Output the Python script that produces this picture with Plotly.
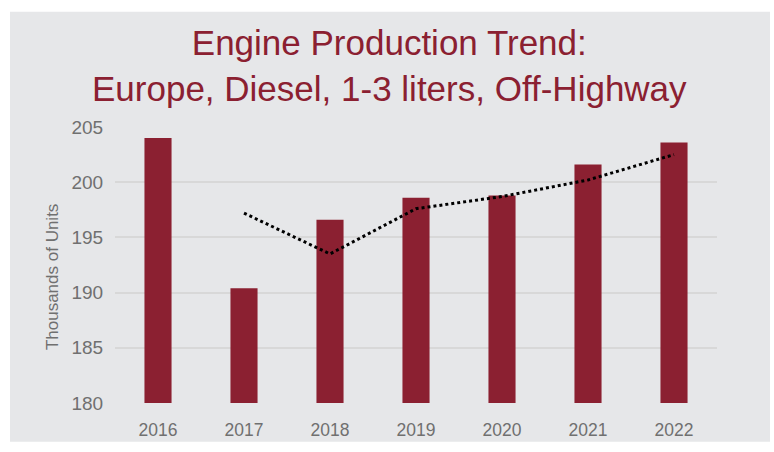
import plotly.graph_objects as go

years = ["2016", "2017", "2018", "2019", "2020", "2021", "2022"]
production = [204.0, 190.4, 196.6, 198.6, 198.8, 201.6, 203.6]
trend_years = ["2017", "2018", "2019", "2020", "2021", "2022"]
trend_values = [197.2, 193.5, 197.6, 198.7, 200.2, 202.5]
y_ticks = [180, 185, 190, 195, 200, 205]

W, H = 774, 452
L, R, T, B = 115, 57, 127, 40
pw, ph = W - L - R, H - T - B

def px_x(x):
    return (x - L) / pw

def px_y(y):
    return (H - B - y) / ph

fig = go.Figure()
fig.add_trace(go.Bar(x=years, y=production, marker=dict(color="#8b2031", line=dict(width=0)),
                     showlegend=False, hoverinfo="skip"))
fig.add_trace(go.Scatter(x=trend_years, y=trend_values, mode="lines",
                         line=dict(color="black", width=3, dash="dot"), showlegend=False,
                         hoverinfo="skip"))

fig.add_shape(type="rect", xref="paper", yref="paper", layer="below",
              x0=px_x(10), x1=px_x(770), y0=px_y(452), y1=px_y(8),
              fillcolor="#e6e7e9", line=dict(width=0))

fig.add_annotation(text="Engine Production Trend:<br>Europe, Diesel, 1-3 liters, Off-Highway",
                   xref="paper", yref="paper", x=px_x(389), y=px_y(18),
                   xanchor="center", yanchor="top", showarrow=False, align="center",
                   font=dict(family="Liberation Sans, Arial, sans-serif", size=35, color="#8b2031"))
fig.add_annotation(text="Thousands of Units", textangle=-90,
                   xref="paper", yref="paper", x=px_x(52), y=px_y(282),
                   xanchor="center", yanchor="middle", showarrow=False,
                   font=dict(family="Liberation Sans, Arial, sans-serif", size=17, color="#707070"))

fig.update_layout(
    width=W, height=H,
    margin=dict(l=L, r=R, t=T, b=B),
    paper_bgcolor="white", plot_bgcolor="rgba(0,0,0,0)",
    bargap=0.685,
    font=dict(family="Liberation Sans, Arial, sans-serif", color="#707070"),
    xaxis=dict(type="category", range=[-0.5, 6.5], showgrid=False, zeroline=False,
               showline=False, ticks="outside", ticklen=11, tickcolor="rgba(0,0,0,0)",
               tickfont=dict(size=17.5, color="#707070")),
    yaxis=dict(range=[180, 205], tickvals=y_ticks, showgrid=True, gridcolor="#d8d8d8",
               gridwidth=2, zeroline=False, showline=False, ticks="outside", ticklen=7,
               tickcolor="rgba(0,0,0,0)",
               tickfont=dict(size=19, color="#707070")),
)

fig.write_html("out.html", config={"displayModeBar": False},
               post_script="document.body.style.margin='0';document.body.style.overflow='hidden';")
